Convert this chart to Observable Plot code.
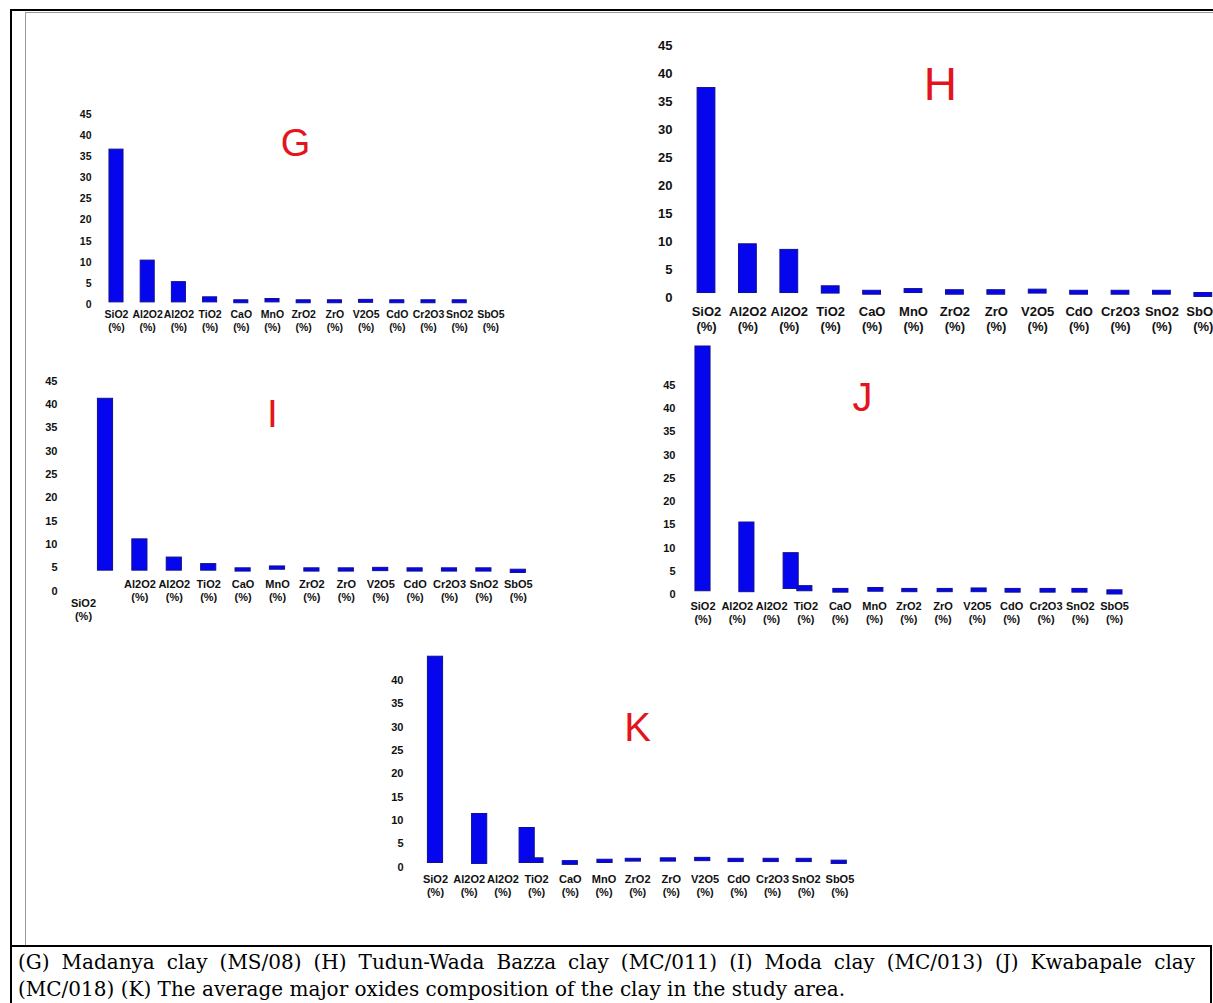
<!DOCTYPE html>
<html><head><meta charset="utf-8">
<script src="https://cdn.jsdelivr.net/npm/d3@7"></script>
<script src="https://cdn.jsdelivr.net/npm/@observablehq/plot@0.6"></script>
<style>
html,body{margin:0;padding:0;background:#fff;}
#page{position:relative;width:1213px;height:1003px;overflow:hidden;background:#fff;}
.ln{position:absolute;}
.panel{position:absolute;}
.cap{position:absolute;left:18px;width:1177px;font-family:"DejaVu Serif","Liberation Serif",serif;font-size:20px;line-height:24px;color:#000;white-space:nowrap;}
</style></head><body>
<div id="page">
  <div class="ln" style="left:10px;top:9px;width:1203px;height:2px;background:#000"></div>
  <div class="ln" style="left:10px;top:9px;width:2px;height:994px;background:#000"></div>
  <div class="ln" style="left:25px;top:12px;width:1188px;height:1px;background:#9a9a9a"></div>
  <div class="ln" style="left:25px;top:12px;width:1px;height:933px;background:#9a9a9a"></div>
  <div class="ln" style="left:10px;top:945px;width:1202px;height:2px;background:#000"></div>
  <div class="ln" style="left:1210px;top:945px;width:2px;height:58px;background:#000"></div>
  <div class="cap" id="cap1" style="top:950px;text-align:justify;text-align-last:justify;">(G) Madanya clay (MS/08) (H) Tudun-Wada Bazza clay (MC/011) (I) Moda clay (MC/013) (J) Kwabapale clay</div>
  <div class="cap" id="cap2" style="top:977px;">(MC/018) (K) The average major oxides composition of the clay in the study area.</div>
</div>
<script>
const categories = ["SiO2","Al2O2","Al2O2","TiO2","CaO","MnO","ZrO2","ZrO","V2O5","CdO","Cr2O3","SnO2","SbO5"];
const ticks45 = [0,5,10,15,20,25,30,35,40,45];
const ticks40 = [0,5,10,15,20,25,30,35,40];

// G: Madanya clay
const G_top  = [36.7, 10.4, 5.3, 1.7, 1.0, 1.3, 1.0, 1.0, 1.1, 1.0, 1.0, 1.0, null];
const G_base = [0.5, 0.5, 0.5, 0.5, 0.3, 0.5, 0.3, 0.3, 0.4, 0.3, 0.3, 0.3, null];
// H: Tudun-Wada Bazza clay
const H_top  = [37.4, 9.5, 8.5, 2.0, 1.2, 1.5, 1.3, 1.3, 1.4, 1.2, 1.2, 1.2, 0.8];
const H_base = [0.8, 0.8, 0.8, 0.7, 0.5, 0.8, 0.5, 0.5, 0.7, 0.5, 0.5, 0.5, 0.1];
// I: Moda clay
const I_top  = [41.2, 11.1, 7.2, 5.8, 4.9, 5.3, 4.9, 4.9, 5.0, 4.9, 4.9, 4.9, 4.6];
const I_base = [4.4, 4.4, 4.4, 4.4, 4.2, 4.6, 4.2, 4.2, 4.3, 4.2, 4.2, 4.2, 3.9];
// J: Kwabapale clay
const J_top  = [53.4, 15.5, 8.9, 1.8, 1.2, 1.4, 1.2, 1.2, 1.3, 1.2, 1.2, 1.2, 0.9];
const J_base = [0.7, 0.5, 1.2, 0.7, 0.4, 0.6, 0.5, 0.5, 0.5, 0.4, 0.4, 0.4, 0.0];
const J_slot = [0, 1.28, 2.57, 2.97, 4.02, 5.04, 6.03, 7.06, 8.05, 9.04, 10.06, 10.99, 12.01];
// K: average
const K_top  = [45.1, 11.4, 8.4, 1.9, 1.3, 1.6, 1.8, 1.9, 2.0, 1.8, 1.8, 1.8, 1.4];
const K_base = [0.9, 0.7, 0.9, 0.9, 0.5, 0.9, 1.2, 1.2, 1.3, 1.1, 1.1, 1.1, 0.7];
const K_slot = [0, 1.31, 2.72, 2.98, 4.0, 5.03, 5.87, 6.91, 7.93, 8.92, 9.96, 10.94, 11.98];

const panels = [
  {top: G_top, base: G_base, ticks: ticks45, letter: {text: "G", slot: 5.74, value: 38, size: 38},
   L: 28, T: 95, W: 490, H: 250, tickRight: 91, x0: 116, step: 31.2, y0px: 304, unit: 4.22, font: 10.5, labelDy: 16, barWidth: 0.45},
  {top: H_top, base: H_base, ticks: ticks45, letter: {text: "H", slot: 5.65, value: 37.9, size: 46},
   L: 600, T: 30, W: 613, H: 325, tickRight: 672, x0: 706, step: 41.4, y0px: 297, unit: 5.6, font: 13, labelDy: 21, barWidth: 0.43},
  {top: I_top, base: I_base, ticks: ticks45, letter: {text: "I", slot: 4.85, value: 37.8, size: 39},
   L: 28, T: 372, W: 580, H: 260, tickRight: 57, x0: 105, step: 34.4, y0px: 590.7, unit: 4.67, font: 11, labelDy: -1, barWidth: 0.44,
   labelShift: {0: [-22, 18]}},
  {top: J_top, base: J_base, slots: J_slot, ticks: ticks45, letter: {text: "J", slot: 4.65, value: 42.3, size: 40},
   L: 615, T: 335, W: 598, H: 300, tickRight: 675, x0: 702.5, step: 34.3, y0px: 594, unit: 4.644, font: 11, labelDy: 18, barWidth: 0.44},
  {top: K_top, base: K_base, slots: K_slot, ticks: ticks40, letter: {text: "K", slot: 6.0, value: 29.8, size: 40},
   L: 380, T: 640, W: 500, H: 260, tickRight: 403, x0: 435, step: 33.7, y0px: 866.7, unit: 4.667, font: 11, labelDy: 18, barWidth: 0.45}
];

const page = document.getElementById("page");
for (const p of panels) {
  const rows = categories.map((name, i) => ({name, i, slot: p.slots ? p.slots[i] : i, base: p.base[i], top: p.top[i]}));
  const marginLeft = p.tickRight + 4 - p.L;
  const marginTop = p.y0px - 45 * p.unit - p.T;
  const marginBottom = p.T + p.H - p.y0px;
  const xMin = (p.L + marginLeft - p.x0) / p.step;
  const xMax = (p.L + p.W - p.x0) / p.step;
  const hw = p.barWidth / 2;
  const shift = p.labelShift || {};
  const textOpts = {fontSize: p.font, fontWeight: "bold", fill: "#111", lineAnchor: "middle", lineHeight: 1.2, text: d => d.name + "\n(%)"};
  const marks = [
    Plot.axisY({ticks: p.ticks, tickSize: 0, tickPadding: 4, fontSize: p.font, fontWeight: "bold", label: null}),
    Plot.rect(rows.filter(d => d.top != null), {x1: d => d.slot - hw, x2: d => d.slot + hw, y1: "base", y2: "top", fill: "#0606ee", stroke: "#101090", strokeWidth: 1}),
    Plot.text(rows.filter(d => !shift[d.i]), {x: "i", y: () => 0, dy: p.labelDy, ...textOpts}),
    ...rows.filter(d => shift[d.i]).map(d => Plot.text([d], {x: "i", y: () => 0, dx: shift[d.i][0], dy: shift[d.i][1], ...textOpts})),
    Plot.text([p.letter], {x: "slot", y: "value", text: "text", fontSize: p.letter.size, fill: "#e3141c", lineAnchor: "middle"})
  ];
  const chart = Plot.plot({
    width: p.W, height: p.H, marginLeft, marginRight: 0, marginTop, marginBottom,
    x: {type: "linear", domain: [xMin, xMax], axis: null},
    y: {type: "linear", domain: [0, 45], axis: null},
    style: {fontFamily: "'Liberation Sans', Arial, sans-serif", background: "transparent", overflow: "visible", color: "#111"},
    marks
  });
  const div = document.createElement("div");
  div.className = "panel";
  div.style.left = p.L + "px";
  div.style.top = p.T + "px";
  div.appendChild(chart);
  page.appendChild(div);
}
</script>
</body></html>
